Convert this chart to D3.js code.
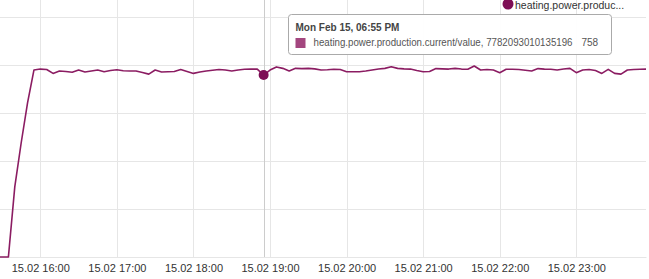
<!DOCTYPE html>
<html>
<head>
<meta charset="utf-8">
<script src="https://cdn.jsdelivr.net/npm/d3@7"></script>
<style>
  body { margin: 0; background: #fff; }
  svg { display: block; font-family: "Liberation Sans", Arial, sans-serif; }
</style>
</head>
<body>
<div id="chart"></div>
<script>
// 5 minute samples, 15.02 15:25 .. 23:55
const startTime = new Date(2021, 1, 15, 15, 25);
const endTime = new Date(2021, 1, 15, 23, 56);
const times = d3.timeMinute.every(5).range(startTime, endTime);

const values = [
  0, 0, 0, 292, 475, 642, 779,                          // 15:25 - 15:55
  783, 781, 765, 775, 773, 770, 779, 771, 775, 779, 772, 777, // 16
  780, 776, 775, 775, 769, 762, 779, 771, 772, 773, 781, 773, // 17
  765, 771, 775, 778, 781, 779, 775, 779, 782, 783, 783, 758, // 18
  779, 792, 786, 775, 786, 785, 786, 784, 779, 780, 782, 781, // 19
  772, 772, 772, 775, 779, 783, 786, 793, 786, 784, 783, 777, // 20
  772, 773, 785, 784, 783, 786, 783, 782, 796, 779, 781, 779, // 21
  768, 782, 782, 781, 778, 775, 785, 783, 782, 779, 783, 786, // 22
  768, 779, 781, 777, 765, 782, 765, 762, 779, 781, 782, 783  // 23
];

const yTicks = [0, 200, 400, 600, 800, 1000];
const seriesName = "heating.power.production.current/value";
const seriesId = "7782093010135196";
const hoverIndex = 42; // 18:55

const data = times.map((t, i) => ({ t: t, v: values[i] }));

const W = 649, H = 279;
const plotW = 646, plotBottom = 257;

const x = d3.scaleTime()
  .domain([new Date(2021, 1, 15, 15, 28, 25), new Date(2021, 1, 15, 23, 54, 36)])
  .range([0, plotW]);
const y = d3.scaleLinear().domain([0, 1000]).range([plotBottom, 17]);

const svg = d3.select("#chart").append("svg")
  .attr("width", W).attr("height", H);

svg.append("defs").append("clipPath").attr("id", "clip")
  .append("rect").attr("x", 0).attr("y", 0).attr("width", plotW).attr("height", plotBottom + 2);

// grid
svg.append("g")
  .selectAll("line.h").data(yTicks).enter().append("line")
  .attr("x1", 0).attr("x2", plotW)
  .attr("y1", d => Math.round(y(d)) + 0.5).attr("y2", d => Math.round(y(d)) + 0.5)
  .attr("stroke", "#e6e6e6");

const hourTicks = x.ticks(d3.timeHour.every(1));
svg.append("g")
  .selectAll("line.v").data(hourTicks).enter().append("line")
  .attr("x1", d => Math.round(x(d)) + 0.5).attr("x2", d => Math.round(x(d)) + 0.5)
  .attr("y1", 0).attr("y2", plotBottom)
  .attr("stroke", "#e6e6e6");

// x axis labels
const fmt = d3.timeFormat("%d.%m %H:%M");
const xAxis = svg.append("g")
  .attr("transform", "translate(0," + plotBottom + ")")
  .call(d3.axisBottom(x).ticks(d3.timeHour.every(1)).tickFormat(fmt).tickSize(0).tickPadding(7));
xAxis.select(".domain").attr("stroke", "#e6e6e6");
xAxis.selectAll("text")
  .attr("fill", "#333")
  .style("font-size", "11px")
  .style("font-family", "'Liberation Sans', Arial, sans-serif");

// hover line
const hx = Math.round(x(data[hoverIndex].t)) + 0.5;
svg.append("line")
  .attr("x1", hx).attr("x2", hx).attr("y1", 0).attr("y2", plotBottom)
  .attr("stroke", "#cccccc");

// series
const line = d3.line().x(d => x(d.t)).y(d => y(d.v));
svg.append("path")
  .datum(data)
  .attr("clip-path", "url(#clip)")
  .attr("d", line)
  .attr("fill", "none")
  .attr("stroke", "#8b1c62")
  .attr("stroke-width", 1.6)
  .attr("stroke-linejoin", "round");

svg.append("circle")
  .attr("cx", x(data[hoverIndex].t)).attr("cy", y(data[hoverIndex].v))
  .attr("r", 5).attr("fill", "#7d0e55");

// legend
const legend = svg.append("g").attr("transform", "translate(508,4)");
legend.append("circle").attr("r", 5.5).attr("fill", "#7d0e55");
legend.append("text").attr("x", 7).attr("y", 4.5)
  .attr("fill", "#333").style("font-size", "10.5px")
  .text("heating.power.produc...");

// tooltip
const tip = svg.append("g").attr("transform", "translate(288.5,14.5)");
tip.append("rect")
  .attr("width", 323).attr("height", 40).attr("rx", 3)
  .attr("fill", "rgba(255,255,255,0.95)")
  .attr("stroke", "#aaa");
tip.append("text").attr("x", 7).attr("y", 16)
  .attr("fill", "#444").style("font-size", "10px").style("font-weight", "bold")
  .text(d3.timeFormat("%a %b %d, %I:%M %p")(data[hoverIndex].t));
tip.append("rect").attr("x", 7).attr("y", 23.5).attr("width", 10).attr("height", 10)
  .attr("fill", "#a3467f");
tip.append("text").attr("x", 25).attr("y", 31.5)
  .attr("fill", "#555").style("font-size", "10px")
  .attr("textLength", 259).attr("lengthAdjust", "spacingAndGlyphs")
  .text(seriesName + ", " + seriesId);
tip.append("text").attr("x", 293).attr("y", 31.5)
  .attr("fill", "#555").style("font-size", "10px")
  .text(data[hoverIndex].v);
</script>
</body>
</html>
